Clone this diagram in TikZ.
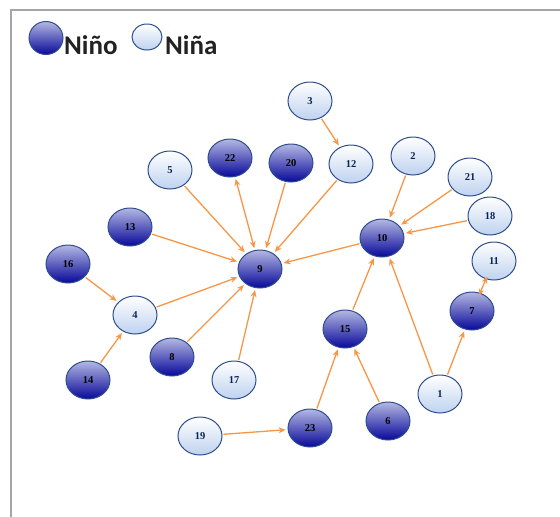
\documentclass[tikz,border=0pt]{standalone}
\usepackage{fontspec}
\setmainfont{Liberation Serif}
\newfontfamily\legendfont{Carlito}
\usetikzlibrary{arrows.meta,shapes.geometric}

\definecolor{arrowc}{HTML}{F79646}
\definecolor{ninoT}{HTML}{B4B8E2}
\definecolor{ninoB}{HTML}{08089A}
\definecolor{ninaB}{HTML}{BED2EF}
\definecolor{rimblue}{HTML}{2F4E8C}
\definecolor{navytxt}{HTML}{0B2456}
\definecolor{framegray}{HTML}{A6A6A6}
\definecolor{legtxt}{HTML}{222222}

\tikzset{
  kid/.style={ellipse, minimum width=44pt, minimum height=38pt, inner sep=0pt,
    draw=rimblue, line width=1pt,
    font=\bfseries\fontsize{10.5}{11}\selectfont},
  nino/.style={kid, top color=ninoT, bottom color=ninoB, text=black},
  nina/.style={kid, top color=white, bottom color=ninaB, text=navytxt},
  tip/.style={Stealth[length=7pt,width=6pt]},
  link/.style={draw=arrowc, line width=1.3pt, -{Stealth[length=7pt,width=6pt]},
    shorten >=2pt, shorten <=1pt},
  both/.style={draw=arrowc, line width=1.3pt,
    {Stealth[length=7pt,width=6pt]}-{Stealth[length=7pt,width=6pt]}},
  legtext/.style={anchor=base west, inner sep=0pt, text=legtxt,
    font=\legendfont\bfseries\fontsize{27}{30}\selectfont}
}

\begin{document}
\begin{tikzpicture}[x=1pt,y=-1pt]
\useasboundingbox (0,0) rectangle (560,517);

% frame
\draw[framegray, line width=1.5pt] (11,517) -- (11,10) -- (560,10);

% legend
\node[nino, minimum width=34pt, minimum height=33pt] (legNino) at (46,38) {};
\node[legtext] (legNinoTxt) at (64,54) {Niño};
\node[nina, minimum width=30pt, minimum height=26pt] (legNina) at (147,37) {};
\node[legtext] (legNinaTxt) at (165,54) {Niña};

% children
\node[nina] (3)  at (310,101) {3};
\node[nino] (22) at (230,158) {22};
\node[nino] (20) at (291,163) {20};
\node[nina] (12) at (351,164) {12};
\node[nina] (2)  at (413,156) {2};
\node[nina] (5)  at (170,170) {5};
\node[nina] (21) at (470,177) {21};
\node[nina] (18) at (490,216) {18};
\node[nino] (13) at (130,227) {13};
\node[nino] (10) at (382,238) {10};
\node[nino] (9)  at (260,269) {9};
\node[nino] (16) at (68,264)  {16};
\node[nina] (11) at (494,261) {11};
\node[nina] (4)  at (135,315) {4};
\node[nino] (7)  at (472,311) {7};
\node[nino] (15) at (345,329) {15};
\node[nino] (8)  at (172,357) {8};
\node[nina] (17) at (234,380) {17};
\node[nino] (14) at (88,380)  {14};
\node[nina] (1)  at (440,394) {1};
\node[nina] (19) at (200,436) {19};
\node[nino] (23) at (310,428) {23};
\node[nino] (6)  at (388,421) {6};

% relations
\draw[link] (3) -- (12);
\draw[both, shorten <=2pt, shorten >=2pt] (22) -- (9);
\draw[link] (20) -- (9);
\draw[link] (12) -- (9);
\draw[link] (5) -- (9);
\draw[link] (13) -- (9);
\draw[link] (4) -- (9);
\draw[link] (8) -- (9);
\draw[link] (17) -- (9);
\draw[link] (10) -- (9);
\draw[link] (2) -- (10);
\draw[link] (21) -- (10);
\draw[link] (18) -- (10);
\draw[link] (15) -- (10);
\draw[link] (1) -- (10);
\draw[both, shorten <=-3pt, shorten >=-3pt] (11) -- (7);
\draw[link] (1) -- (7);
\draw[link] (16) -- (4);
\draw[link] (14) -- (4);
\draw[link] (19) -- (23);
\draw[link] (23) -- (15);
\draw[link] (6) -- (15);
\end{tikzpicture}
\end{document}
